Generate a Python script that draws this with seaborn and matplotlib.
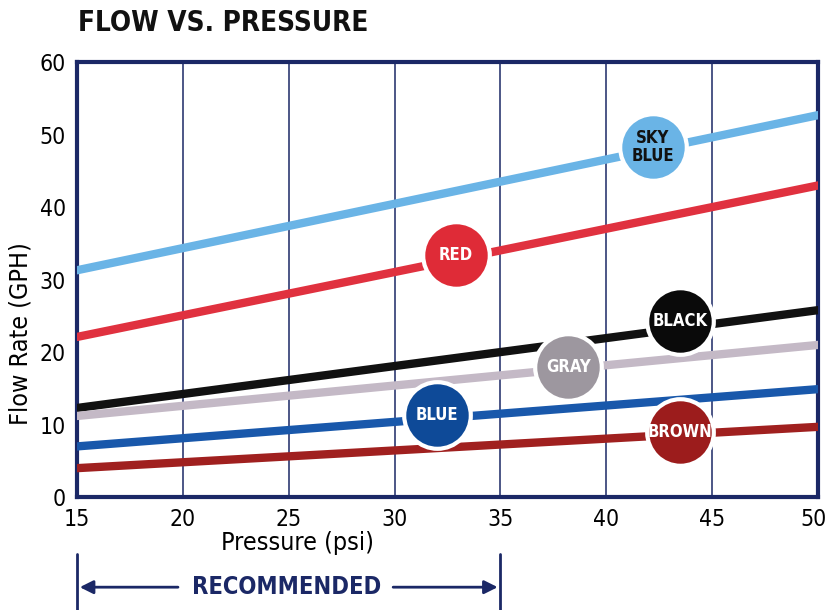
import pandas as pd
import matplotlib.pyplot as plt
import matplotlib.transforms as mtransforms
import seaborn as sns

# Data
PRESSURE = [15, 50]
SKY_BLUE = [31.3, 52.7]
RED = [22.1, 43.0]
BLACK = [12.3, 25.8]
GRAY = [11.2, 21.0]
BLUE = [7.0, 14.9]
BROWN = [4.0, 9.7]

SERIES = ["SKY\nBLUE", "RED", "BLACK", "GRAY", "BLUE", "BROWN"]
LABEL_X = [42.2, 32.9, 43.5, 38.2, 32.0, 43.5]
LABEL_Y = [48.3, 33.4, 24.3, 17.9, 11.4, 9.0]

LINE_COLORS = ["#6ab4e6", "#e0313f", "#111111", "#c4b9c6", "#1958ab", "#a0201f"]
DOT_COLORS = ["#6ab4e6", "#df2b37", "#0a0a0a", "#9d979f", "#0e4a98", "#9c1c1c"]
TEXT_COLORS = ["#111111", "white", "white", "white", "white", "white"]
NAVY = "#1b2866"

sns.set_style("white")
plt.rcParams["font.family"] = ["DejaVu Sans"]
plt.rcParams["font.stretch"] = "condensed"
plt.rcParams["text.color"] = "black"
plt.rcParams["axes.labelcolor"] = "black"
plt.rcParams["xtick.color"] = "black"
plt.rcParams["ytick.color"] = "black"

rows = []
for name, vals in zip(SERIES, [SKY_BLUE, RED, BLACK, GRAY, BLUE, BROWN]):
    for p, v in zip(PRESSURE, vals):
        rows.append({"series": name, "pressure": p, "flow": v})
df = pd.DataFrame(rows)

fig = plt.figure(figsize=(8.28, 6.10), dpi=100)
ax = fig.add_axes([0.093, 0.185, 0.895, 0.713])

sns.lineplot(data=df, x="pressure", y="flow", hue="series",
             palette=dict(zip(SERIES, LINE_COLORS)), linewidth=6,
             legend=False, ax=ax, zorder=3)

# label dots
for name, x, y, c, tc in zip(SERIES, LABEL_X, LABEL_Y, DOT_COLORS, TEXT_COLORS):
    ax.scatter([x], [y], s=2300, color=c, edgecolor="white", linewidth=3, zorder=4)
    ax.text(x, y, name, ha="center", va="center", color=tc, fontsize=12,
            fontweight="bold", linespacing=0.95, zorder=5)

ax.set_xlim(15, 50)
ax.set_ylim(0, 60)
ax.set_xticks(range(15, 51, 5))
ax.set_yticks(range(0, 61, 10))
for x in range(20, 50, 5):
    ax.axvline(x, color=NAVY, linewidth=1.1, zorder=1)
for s in ax.spines.values():
    s.set_color(NAVY)
    s.set_linewidth(3)
ax.tick_params(length=0, labelsize=16.5, pad=8)
# nudge the "50" label left so it stays inside the figure
last = ax.get_xticklabels()[-1]
last.set_transform(last.get_transform() +
                   mtransforms.ScaledTranslation(-3 / 72, 0, fig.dpi_scale_trans))

ax.set_xlabel("Pressure (psi)", fontsize=18)
ax.set_ylabel("Flow Rate (GPH)", fontsize=18)
ax.xaxis.set_label_coords(0.297, -0.078)
ax.yaxis.set_label_coords(-0.06, 0.375)

fig.text(0.094, 0.963, "FLOW VS. PRESSURE", fontsize=20, fontweight="bold",
         ha="left", va="center", color="#111111")

# recommended range marker under the axis
trans = ax.get_xaxis_transform()
for x in (15, 35):
    ax.plot([x, x], [-0.13, -0.27], transform=trans, color=NAVY,
            linewidth=2, clip_on=False)
ax.annotate("", xy=(15, -0.207), xytext=(19.9, -0.207), xycoords=trans,
            textcoords=trans, arrowprops=dict(arrowstyle="-|>", color=NAVY,
                                              lw=2, mutation_scale=20))
ax.annotate("", xy=(35, -0.207), xytext=(29.8, -0.207), xycoords=trans,
            textcoords=trans, arrowprops=dict(arrowstyle="-|>", color=NAVY,
                                              lw=2, mutation_scale=20))
ax.text(24.9, -0.207, "RECOMMENDED", transform=trans, ha="center",
        va="center", color=NAVY, fontsize=17, fontweight="bold")

fig.savefig("out.png", dpi=100)
